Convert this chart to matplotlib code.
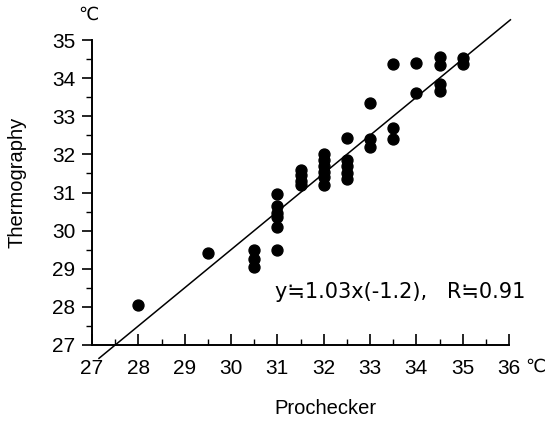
import matplotlib
matplotlib.use('Agg')
import matplotlib.pyplot as plt
from matplotlib.ticker import MultipleLocator
import numpy as np

plt.rcParams['font.family'] = ['Liberation Sans', 'DejaVu Sans']

# readings (deg C)
prochecker = [28.0, 29.5,
              30.5, 30.5, 30.5,
              31.0, 31.0, 31.0, 31.0, 31.0, 31.0,
              31.5, 31.5, 31.5, 31.5,
              32.0, 32.0, 32.0, 32.0, 32.0, 32.0,
              32.5, 32.5, 32.5, 32.5, 32.5,
              33.0, 33.0, 33.0,
              33.5, 33.5, 33.5,
              34.0, 34.0,
              34.5, 34.5, 34.5, 34.5,
              35.0, 35.0]
thermography = [28.05, 29.42,
                29.5, 29.25, 29.05,
                30.95, 30.65, 30.45, 30.35, 30.1, 29.5,
                31.6, 31.45, 31.3, 31.2,
                32.0, 31.85, 31.7, 31.55, 31.4, 31.2,
                32.42, 31.85, 31.7, 31.5, 31.35,
                33.35, 32.4, 32.2,
                34.38, 32.7, 32.41,
                34.4, 33.62,
                34.55, 34.35, 33.85, 33.65,
                34.52, 34.38]

# regression line as drawn
fit_slope = 1.0
fit_intercept = -0.5
fit_range = [27.15, 36.03]
equation = 'y≒1.03x(-1.2),   R≒0.91'

fig = plt.figure(figsize=(5.54, 4.23), dpi=100)
ax = fig.add_axes([0.1661, 0.1844, 0.7527, 0.7210])

ax.scatter(prochecker, thermography, s=62, color='black', zorder=3, clip_on=False)
lx = np.array(fit_range)
ax.plot(lx, fit_slope * lx + fit_intercept, color='black', lw=1.1, clip_on=False)

ax.set_xlim(27, 36)
ax.set_ylim(27, 35)
ax.xaxis.set_major_locator(MultipleLocator(1))
ax.xaxis.set_minor_locator(MultipleLocator(0.5))
ax.yaxis.set_major_locator(MultipleLocator(1))
ax.yaxis.set_minor_locator(MultipleLocator(0.5))

for side in ['top', 'right']:
    ax.spines[side].set_visible(False)
for side in ['left', 'bottom']:
    ax.spines[side].set_linewidth(1.4)

ax.tick_params(axis='x', which='major', direction='in', length=8, width=1.2, labelsize=15, pad=10)
ax.tick_params(axis='x', which='minor', direction='in', length=4, width=1.0)
ax.tick_params(axis='y', which='major', direction='out', length=7, width=1.2, labelsize=15, pad=5)
ax.tick_params(axis='y', which='minor', direction='out', length=4, width=1.0)

ax.text(30.95, 28.39, equation, fontsize=15, ha='left', va='center', family=['DejaVu Sans'])

fig.text(325 / 554, 1 - 408 / 423, 'Prochecker', fontsize=14.5, ha='center', va='center')
fig.text(17 / 554, 1 - 182 / 423, 'Thermography', fontsize=14.5, ha='center', va='center', rotation=90)
fig.text(88 / 554, 1 - 15 / 423, '℃', fontsize=13, ha='center', va='center')
fig.text(535 / 554, 1 - 367 / 423, '℃', fontsize=13, ha='center', va='center')

fig.savefig('out.png', dpi=100)
